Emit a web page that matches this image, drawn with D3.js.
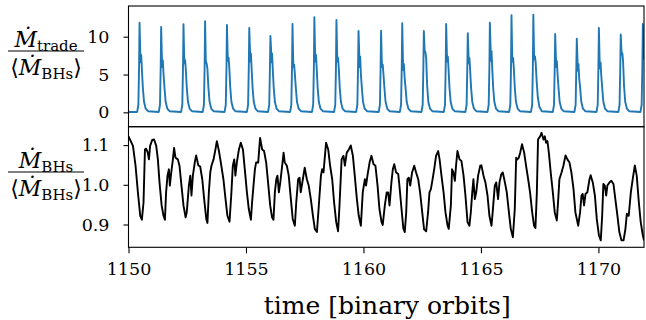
<!DOCTYPE html>
<html><head><meta charset="utf-8">
<script src="https://cdn.jsdelivr.net/npm/d3@7"></script>
<style>body{margin:0;background:#fff}svg{display:block}</style>
</head><body>
<svg id="chart" width="646" height="320"></svg>
<script>
// ---- data ----
const xTicks = [1150, 1155, 1160, 1165, 1170];
const tradeTicks = [0, 5, 10];
const bhTicks = [0.9, 1.0, 1.1];

// trading accretion rate (one line per spike)
const tradeTime = [
 1150.00,
 1150.37,1150.42,1150.45,1150.47,1150.50,1150.52,1150.54,1150.57,1150.61,1150.66,1150.73,1150.83,
 1151.29,1151.34,1151.37,1151.39,1151.42,1151.44,1151.46,1151.49,1151.53,1151.58,1151.65,1151.75,
 1152.24,1152.29,1152.32,1152.34,1152.37,1152.39,1152.41,1152.44,1152.48,1152.53,1152.60,1152.70,
 1153.16,1153.21,1153.24,1153.26,1153.29,1153.31,1153.33,1153.36,1153.40,1153.45,1153.52,1153.62,
 1154.09,1154.14,1154.17,1154.19,1154.22,1154.24,1154.26,1154.29,1154.33,1154.38,1154.45,1154.55,
 1155.04,1155.09,1155.12,1155.14,1155.17,1155.19,1155.21,1155.24,1155.28,1155.33,1155.40,1155.50,
 1155.94,1155.99,1156.02,1156.04,1156.07,1156.09,1156.11,1156.14,1156.18,1156.23,1156.30,1156.40,
 1156.88,1156.93,1156.96,1156.98,1157.01,1157.03,1157.05,1157.08,1157.12,1157.17,1157.24,1157.34,
 1157.81,1157.86,1157.89,1157.91,1157.94,1157.96,1157.98,1158.01,1158.05,1158.10,1158.17,1158.27,
 1158.75,1158.80,1158.83,1158.85,1158.88,1158.90,1158.92,1158.95,1158.99,1159.04,1159.11,1159.21,
 1159.69,1159.74,1159.77,1159.79,1159.82,1159.84,1159.86,1159.89,1159.93,1159.98,1160.05,1160.15,
 1160.65,1160.70,1160.73,1160.75,1160.78,1160.80,1160.82,1160.85,1160.89,1160.94,1161.01,1161.11,
 1161.55,1161.60,1161.63,1161.65,1161.68,1161.70,1161.72,1161.75,1161.79,1161.84,1161.91,1162.01,
 1162.47,1162.52,1162.55,1162.57,1162.60,1162.62,1162.64,1162.67,1162.71,1162.76,1162.83,1162.93,
 1163.42,1163.47,1163.50,1163.52,1163.55,1163.57,1163.59,1163.62,1163.66,1163.71,1163.78,1163.88,
 1164.34,1164.39,1164.42,1164.44,1164.47,1164.49,1164.51,1164.54,1164.58,1164.63,1164.70,1164.80,
 1165.28,1165.33,1165.36,1165.38,1165.41,1165.43,1165.45,1165.48,1165.52,1165.57,1165.64,1165.74,
 1166.20,1166.25,1166.28,1166.30,1166.33,1166.35,1166.37,1166.40,1166.44,1166.49,1166.56,1166.66,
 1167.13,1167.18,1167.21,1167.23,1167.26,1167.28,1167.30,1167.33,1167.37,1167.42,1167.49,1167.59,
 1168.06,1168.11,1168.14,1168.16,1168.19,1168.21,1168.23,1168.26,1168.30,1168.35,1168.42,1168.52,
 1168.98,1169.03,1169.06,1169.08,1169.11,1169.13,1169.15,1169.18,1169.22,1169.27,1169.34,1169.44,
 1169.92,1169.97,1170.00,1170.02,1170.05,1170.07,1170.09,1170.12,1170.16,1170.21,1170.28,1170.38,
 1170.85,1170.90,1170.93,1170.95,1170.98,1171.00,1171.02,1171.05,1171.09,1171.14,1171.21,1171.31,
 1171.79,1171.84,1171.87,1171.89,1171.94
];
const tradeRate = [
 0.05,
 0.05,1.0,6.0,11.85,8.0,6.6,7.6,5.7,3.3,1.4,0.5,0.15,
 0.05,1.0,6.0,11.30,7.3,6.0,6.9,5.1,3.3,1.4,0.5,0.15,
 0.05,1.0,6.0,11.64,7.3,6.5,6.9,5.6,3.3,1.4,0.5,0.15,
 0.05,1.0,6.0,12.04,6.8,6.6,6.4,5.7,3.3,1.4,0.5,0.15,
 0.05,1.0,6.0,11.55,7.6,6.8,7.2,5.9,3.3,1.4,0.5,0.15,
 0.05,1.0,6.0,11.15,8.2,6.7,7.8,5.8,3.3,1.4,0.5,0.15,
 0.05,1.0,6.0,10.10,8.2,6.6,7.8,5.7,3.3,1.4,0.5,0.15,
 0.05,1.0,6.0,11.68,6.7,6.0,6.3,5.1,3.3,1.4,0.5,0.15,
 0.05,1.0,6.0,12.57,8.0,6.7,7.6,5.8,3.3,1.4,0.5,0.15,
 0.05,1.0,6.0,12.20,7.6,6.7,7.2,5.8,3.3,1.4,0.5,0.15,
 0.05,1.0,6.0,10.75,7.8,6.0,7.4,5.1,3.3,1.4,0.5,0.15,
 0.05,1.0,6.0,10.80,6.7,6.0,6.3,5.1,3.3,1.4,0.5,0.15,
 0.05,1.0,6.0,11.77,6.8,5.6,6.4,4.7,3.3,1.4,0.5,0.15,
 0.05,1.0,6.0,10.75,8.3,8.0,7.9,7.1,3.6,1.4,0.5,0.15,
 0.05,1.0,6.0,11.68,7.8,6.7,7.4,5.8,3.3,1.4,0.5,0.15,
 0.05,1.0,6.0,10.45,7.6,6.5,7.2,5.6,3.3,1.4,0.5,0.15,
 0.05,1.0,6.0,11.85,8.5,6.8,8.1,5.9,3.3,1.4,0.5,0.15,
 0.05,1.0,6.0,12.83,7.6,6.7,7.2,5.8,3.3,1.4,0.5,0.15,
 0.05,1.0,6.0,12.90,7.8,7.0,7.4,6.5,4.2,2.0,0.7,0.15,
 0.05,1.0,6.0,10.36,7.2,6.0,6.8,5.1,3.3,1.4,0.5,0.15,
 0.05,1.0,6.0,9.74,6.8,5.5,6.4,4.6,3.3,1.4,0.5,0.15,
 0.05,1.0,6.0,11.15,7.0,5.8,6.6,4.9,3.3,1.4,0.5,0.15,
 0.05,1.0,6.0,10.30,8.2,7.6,7.8,6.7,3.5,1.4,0.5,0.15,
 0.05,1.0,6.0,11.68,7.0
];

// black-hole accretion rate, normalised
const bhTime = [
 1150.00,1150.19,1150.30,1150.40,1150.50,1150.57,1150.64,1150.70,1150.75,1150.82,
 1150.87,1150.92,1151.01,1151.09,1151.18,1151.25,1151.32,1151.41,1151.49,1151.55,
 1151.60,1151.66,1151.72,1151.76,1151.82,1151.89,1151.94,1152.00,1152.10,1152.17,
 1152.24,1152.34,1152.43,1152.48,1152.57,1152.63,1152.68,1152.74,1152.82,1152.88,
 1152.97,1153.05,1153.14,1153.22,1153.31,1153.36,1153.42,1153.48,1153.53,1153.62,
 1153.70,1153.76,1153.85,1153.93,1154.04,1154.13,1154.21,1154.30,1154.38,1154.44,
 1154.50,1154.55,1154.61,1154.70,1154.78,1154.87,1154.95,1155.04,1155.12,1155.21,
 1155.26,1155.32,1155.38,1155.43,1155.52,1155.60,1155.69,1155.77,1155.86,1155.94,
 1156.03,1156.11,1156.17,1156.23,1156.29,1156.34,1156.40,1156.46,1156.54,1156.60,
 1156.65,1156.74,1156.82,1156.91,1156.99,1157.08,1157.14,1157.22,1157.28,1157.33,
 1157.42,1157.50,1157.59,1157.67,1157.76,1157.85,1157.93,1158.02,1158.10,1158.19,
 1158.24,1158.30,1158.36,1158.41,1158.50,1158.58,1158.67,1158.75,1158.84,1158.92,
 1158.98,1159.07,1159.15,1159.21,1159.29,1159.38,1159.46,1159.55,1159.63,1159.72,
 1159.80,1159.89,1159.97,1160.06,1160.11,1160.17,1160.26,1160.34,1160.43,1160.51,
 1160.60,1160.68,1160.77,1160.82,1160.91,1160.99,1161.05,1161.11,1161.19,1161.25,
 1161.31,1161.39,1161.48,1161.53,1161.62,1161.70,1161.76,1161.82,1161.87,1161.93,
 1161.99,1162.07,1162.16,1162.24,1162.33,1162.41,1162.50,1162.58,1162.67,1162.75,
 1162.81,1162.87,1162.92,1163.01,1163.09,1163.18,1163.24,1163.32,1163.41,1163.49,
 1163.58,1163.63,1163.72,1163.77,1163.83,1163.89,1163.94,1164.00,1164.09,1164.17,
 1164.26,1164.34,1164.43,1164.51,1164.57,1164.63,1164.68,1164.74,1164.80,1164.88,
 1164.97,1165.02,1165.11,1165.19,1165.28,1165.36,1165.45,1165.50,1165.59,1165.65,
 1165.73,1165.79,1165.87,1165.93,1166.02,1166.10,1166.19,1166.27,1166.36,1166.44,
 1166.50,1166.55,1166.61,1166.67,1166.75,1166.84,1166.92,1167.01,1167.09,1167.18,
 1167.26,1167.32,1167.38,1167.43,1167.52,1167.58,1167.66,1167.72,1167.77,1167.83,
 1167.89,1167.97,1168.06,1168.14,1168.23,1168.29,1168.34,1168.43,1168.51,1168.60,
 1168.68,1168.77,1168.85,1168.94,1169.02,1169.14,1169.22,1169.28,1169.33,1169.39,
 1169.45,1169.53,1169.62,1169.67,1169.76,1169.85,1169.93,1170.02,1170.10,1170.16,
 1170.21,1170.27,1170.33,1170.38,1170.47,1170.55,1170.64,1170.72,1170.81,1170.89,
 1170.98,1171.07,1171.15,1171.21,1171.29,1171.38,1171.46,1171.55,1171.63,1171.72,
 1171.80,1171.89,1171.94
];
const bhRate = [
 1.122,1.098,1.048,0.981,0.922,0.912,0.956,1.089,1.091,1.081,
 1.064,1.098,1.113,1.114,1.098,1.064,1.006,0.948,0.922,0.912,
 0.981,1.023,1.039,0.998,1.031,1.064,1.093,1.068,1.064,1.048,
 1.006,0.948,0.918,0.931,0.998,1.023,0.973,1.023,1.056,1.074,
 1.049,1.046,1.014,0.964,0.914,0.904,0.981,1.031,1.048,1.064,
 1.089,1.110,1.085,1.056,1.014,0.964,0.922,0.907,0.981,1.048,
 1.064,1.023,1.056,1.089,1.106,1.089,1.039,0.981,0.939,0.912,
 0.956,0.998,1.039,1.056,1.056,1.118,1.089,1.085,1.056,1.006,
 0.948,0.918,0.912,0.981,1.014,1.023,0.981,1.006,1.048,1.081,
 1.056,1.048,1.023,0.964,0.914,0.897,0.956,1.014,1.018,0.981,
 1.014,1.043,1.014,0.998,0.964,0.922,0.889,0.881,0.948,1.023,
 1.039,1.031,1.073,1.106,1.089,1.048,1.014,0.956,0.906,0.883,
 0.948,1.064,1.073,1.048,1.081,1.089,1.099,1.073,1.023,0.964,
 0.922,0.897,0.981,1.014,0.998,1.023,1.056,1.073,1.052,1.048,
 0.998,0.939,0.906,0.899,0.948,0.981,0.981,0.948,1.006,1.039,
 1.052,1.031,1.027,0.998,0.939,0.889,0.881,0.931,1.014,1.018,
 0.998,1.031,1.048,1.031,1.014,0.981,0.931,0.888,0.883,0.931,
 0.981,0.989,1.006,1.039,1.073,1.085,1.064,1.023,0.981,0.931,
 0.897,0.889,0.948,1.039,1.031,1.010,1.048,1.085,1.064,1.060,
 1.023,0.973,0.906,0.897,0.931,0.981,1.014,0.964,0.981,1.023,
 1.048,1.049,1.023,1.006,0.973,0.922,0.897,0.931,0.998,1.006,
 0.964,1.006,1.027,1.031,1.006,0.981,0.931,0.889,0.868,0.939,
 1.068,1.064,1.068,1.081,1.102,1.081,1.048,1.014,0.981,0.931,
 0.897,0.891,0.981,1.114,1.122,1.131,1.114,1.122,1.106,1.110,
 1.081,1.031,0.981,0.931,0.910,0.964,1.014,1.031,1.048,1.074,
 1.064,1.056,1.031,0.989,0.931,0.897,0.931,0.973,0.977,0.948,
 0.977,0.981,1.014,1.024,1.006,0.973,0.914,0.873,0.860,0.922,
 1.002,0.998,0.973,0.998,1.006,1.010,1.002,0.964,0.922,0.881,
 0.860,0.860,0.889,0.927,0.922,0.981,1.014,1.049,1.023,0.956,
 0.906,0.873,0.860
];

// ---- layout ----
const svg = d3.select("#chart");
const L = 128.5, R = 644;
const topP = {y0: 6, y1: 126.7};
const botP = {y0: 126.7, y1: 247.3};
const serif = "'DejaVu Serif', serif";

const x = d3.scaleLinear().domain([1150, 1171.94]).range([L, R]);
const yTop = d3.scaleLinear().domain([-1.9, 14.06]).range([topP.y1, topP.y0]);
const yBot = d3.scaleLinear().domain([0.8426, 1.1463]).range([botP.y1, botP.y0]);

const defs = svg.append("defs");
defs.append("clipPath").attr("id", "clipTop").append("rect")
  .attr("x", L).attr("y", topP.y0).attr("width", R - L).attr("height", topP.y1 - topP.y0);
defs.append("clipPath").attr("id", "clipBot").append("rect")
  .attr("x", L).attr("y", botP.y0).attr("width", R - L).attr("height", botP.y1 - botP.y0);

const tradeData = d3.zip(tradeTime, tradeRate);
const bhData = d3.zip(bhTime, bhRate);

svg.append("path").datum(tradeData)
  .attr("clip-path", "url(#clipTop)")
  .attr("fill", "none").attr("stroke", "#1f77b4").attr("stroke-width", 1.9)
  .attr("stroke-linejoin", "round")
  .attr("d", d3.line().x(d => x(d[0])).y(d => yTop(d[1])));

svg.append("path").datum(bhData)
  .attr("clip-path", "url(#clipBot)")
  .attr("fill", "none").attr("stroke", "#000").attr("stroke-width", 1.9)
  .attr("stroke-linejoin", "round")
  .attr("d", d3.line().x(d => x(d[0])).y(d => yBot(d[1])));

// spines
[topP, botP].forEach(p => {
  svg.append("rect").attr("x", L).attr("y", p.y0).attr("width", R - L).attr("height", p.y1 - p.y0)
    .attr("fill", "none").attr("stroke", "#000").attr("stroke-width", 1.1);
});

function styleAxis(g) {
  g.select(".domain").remove();
  g.selectAll(".tick line").attr("stroke", "#000").attr("stroke-width", 1.1);
  g.selectAll(".tick text").attr("fill", "#000").style("font-family", serif).style("font-size", "17.5px");
}

svg.append("g").attr("transform", `translate(${L},0)`)
  .call(d3.axisLeft(yTop).tickValues(tradeTicks).tickSize(5).tickPadding(14).tickFormat(d3.format("d")))
  .call(styleAxis);
svg.append("g").attr("transform", `translate(${L},0)`)
  .call(d3.axisLeft(yBot).tickValues(bhTicks).tickSize(5).tickPadding(14).tickFormat(d3.format(".1f")))
  .call(styleAxis);
svg.append("g").attr("transform", `translate(0,${botP.y1})`)
  .call(d3.axisBottom(x).tickValues(xTicks).tickSize(6).tickPadding(9).tickFormat(d3.format("d")))
  .call(styleAxis);

// x label
svg.append("text").attr("x", (L + R) / 2 + 1).attr("y", 314).attr("text-anchor", "middle")
  .style("font-family", serif).style("font-size", "25px").text("time [binary orbits]");

// y labels (fractions)
function fraction(cx, barY, numSub) {
  const g = svg.append("g").style("font-family", serif);
  const num = g.append("text").attr("x", cx).attr("y", barY - 4).attr("text-anchor", "middle").style("font-size", "22px");
  num.append("tspan").style("font-style", "italic").text("Ṁ");
  num.append("tspan").attr("dy", 4).style("font-size", "15px").text(numSub);
  g.append("line").attr("x1", cx - 38).attr("x2", cx + 38).attr("y1", barY).attr("y2", barY)
    .attr("stroke", "#000").attr("stroke-width", 1.2);
  const den = g.append("text").attr("x", cx).attr("y", barY + 24).attr("text-anchor", "middle").style("font-size", "22px");
  den.append("tspan").text("⟨");
  den.append("tspan").style("font-style", "italic").text("Ṁ");
  den.append("tspan").attr("dy", 4).style("font-size", "15px").text("BHs");
  den.append("tspan").attr("dy", -4).text("⟩");
}
fraction(46, 51, "trade");
fraction(46, 172, "BHs");
</script>
</body></html>
